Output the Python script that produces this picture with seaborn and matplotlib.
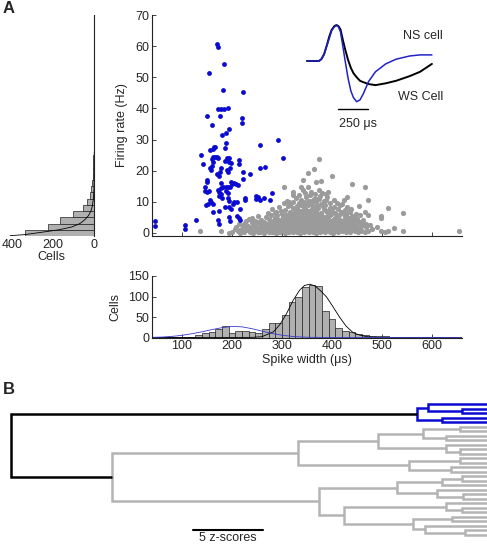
import numpy as np
import pandas as pd
import matplotlib
matplotlib.use("Agg")
import matplotlib.pyplot as plt
import seaborn as sns

# narrow spiking cells (blue): spike width (us), firing rate (Hz)
ns_cells = [
    (169, 60.8), (172, 59.6), (184, 54.2), (153, 51.4), (181, 45.9), (222, 45.4),
    (172, 39.8), (178, 39.9), (183, 39.8), (191, 40.2),
    (150, 37.6), (175, 37.4), (219, 36.9), (219, 35.2), (159, 34.5), (194, 33.3),
    (187, 32.0), (179, 31.3), (187, 29.0),
    (163, 27.7), (166, 27.5), (161, 26.9), (156, 26.6), (185, 27.4), (255, 28.1),
    (292, 29.9), (301, 24.1),
    (137, 24.9), (141, 22.2), (161, 24.5), (165, 24.3), (169, 24.3), (172, 24.2),
    (159, 23.7), (161, 22.9),
    (189, 24.0), (193, 24.0), (186, 23.2), (193, 22.7), (197, 22.5), (213, 23.4), (213, 22.0),
    (159, 21.5), (155, 20.7), (157, 20.1), (178, 20.7), (175, 19.6), (170, 18.8), (174, 18.3),
    (190, 20.3), (195, 20.8), (192, 19.5), (222, 19.6), (235, 19.0), (222, 17.4),
    (149, 16.9), (149, 16.4), (145, 14.7), (177, 16.1), (181, 14.9), (177, 14.5),
    (197, 16.3), (199, 15.8), (203, 15.9), (208, 15.8), (211, 15.4), (187, 14.7),
    (191, 14.9), (195, 14.6),
    (256, 20.9), (266, 21.3), (145, 13.3), (149, 13.0), (153, 13.3), (172, 13.9),
    (174, 13.0), (178, 12.6), (174, 11.9),
    (187, 13.3), (191, 12.8), (155, 10.7), (157, 9.9), (148, 8.8), (151, 9.3),
    (180, 11.1), (191, 11.1), (194, 10.3),
    (204, 10.0), (201, 9.3), (209, 10.0), (197, 7.7), (193, 8.3), (215, 7.7),
    (225, 11.3), (225, 10.7),
    (247, 12.0), (251, 11.5), (248, 10.9), (255, 10.7), (263, 11.3), (275, 10.7), (279, 12.9),
    (161, 9.3), (162, 6.8), (173, 7.1), (185, 8.3), (209, 5.5), (214, 4.8), (215, 4.2),
    (172, 4.0), (173, 3.0),
    (194, 5.1), (195, 3.8), (127, 4.2), (105, 2.5), (105, 1.3), (45, 3.9), (45, 2.3),
]

# wide spiking cells (grey)
ws_cells = [
    # 0 - 1.5 Hz
    (136, 0.7), (178, 0.7), (193, 0.1), (200, 0.3), (205, 1.1), (211, 0.5), (216, 0.9),
    (219, 1.4), (224, 0.2), (228, 0.8), (231, 1.3), (235, 0.4), (238, 1.0), (242, 0.1),
    (245, 0.7), (248, 1.4), (251, 0.3), (254, 0.9), (257, 1.2), (260, 0.5), (263, 0.1),
    (266, 1.0), (268, 0.6), (271, 1.4), (274, 0.2), (277, 0.8), (279, 1.2), (282, 0.4),
    (285, 1.0), (287, 0.1), (290, 0.6), (293, 1.3), (295, 0.3), (298, 0.9), (301, 1.4),
    (303, 0.5), (306, 0.1), (309, 1.1), (311, 0.7), (314, 0.3), (317, 1.3), (319, 0.9),
    (322, 0.2), (325, 0.6), (327, 1.2), (330, 0.4), (333, 1.0), (335, 0.1), (338, 0.7),
    (341, 1.4), (343, 0.3), (346, 0.9), (349, 0.5), (351, 1.2), (354, 0.2), (357, 0.8),
    (359, 1.4), (362, 0.4), (365, 1.0), (367, 0.1), (370, 0.6), (373, 1.3), (375, 0.3),
    (378, 0.9), (381, 0.5), (383, 1.2), (386, 0.2), (389, 0.8), (392, 1.4), (395, 0.4),
    (398, 1.0), (401, 0.1), (404, 0.7), (408, 1.2), (411, 0.3), (415, 0.9), (419, 0.5),
    (423, 1.3), (427, 0.2), (432, 0.8), (436, 0.4), (441, 1.1), (446, 0.6), (452, 0.2),
    (458, 0.9), (465, 0.4), (471, 0.6), (480, 1.1), (497, 0.6), (505, 0.3), (512, 0.7),
    (523, 1.6), (541, 0.6), (654, 0.5),
    # 1.5 - 3.5 Hz
    (207, 2.0), (214, 2.8), (221, 1.8), (226, 3.2), (232, 2.3), (237, 1.7), (241, 2.9),
    (246, 2.1), (250, 3.4), (255, 1.9), (259, 2.6), (262, 3.3), (267, 2.0), (270, 2.7),
    (274, 1.6), (278, 3.1), (281, 2.4), (285, 1.8), (288, 3.4), (291, 2.2), (295, 2.9),
    (298, 1.7), (302, 2.5), (305, 3.2), (308, 1.9), (312, 2.7), (315, 3.5), (318, 2.1),
    (321, 1.6), (324, 2.9), (328, 2.3), (331, 3.3), (334, 1.8), (337, 2.6), (340, 3.4),
    (343, 2.0), (346, 2.8), (350, 1.6), (353, 3.1), (356, 2.4), (359, 1.9), (362, 3.3),
    (366, 2.2), (369, 2.9), (372, 1.7), (375, 2.6), (379, 3.4), (382, 2.0), (386, 2.8),
    (390, 1.7), (393, 3.2), (397, 2.3), (401, 2.9), (405, 1.8), (410, 3.3), (414, 2.4),
    (419, 1.9), (424, 3.0), (430, 2.2), (436, 2.8), (443, 1.8), (450, 3.1), (458, 2.3),
    (467, 1.9), (476, 2.6), (490, 2.0),
    # 3.5 - 6 Hz
    (227, 3.7), (233, 4.6), (240, 4.8), (246, 3.9), (252, 5.4), (258, 4.2), (263, 3.6),
    (268, 5.1), (273, 4.4), (277, 5.8), (282, 3.8), (286, 4.9), (290, 5.6), (294, 4.1),
    (298, 3.6), (301, 5.2), (305, 4.5), (309, 5.9), (312, 3.8), (316, 4.8), (320, 5.5),
    (323, 4.0), (327, 3.6), (330, 5.0), (334, 4.4), (337, 5.8), (341, 3.9), (344, 4.7),
    (348, 5.4), (351, 4.1), (355, 3.7), (358, 5.1), (362, 4.5), (365, 5.9), (369, 3.8),
    (372, 4.9), (376, 5.6), (380, 4.2), (384, 3.7), (388, 5.2), (392, 4.5), (396, 5.8),
    (400, 3.9), (405, 4.8), (410, 5.5), (415, 4.1), (421, 3.7), (426, 5.0), (432, 4.3),
    (440, 5.3), (448, 4.0), (497, 4.8), (497, 5.5),
    # 6 - 9 Hz
    (272, 6.4), (280, 7.7), (288, 6.8), (294, 8.3), (300, 6.2), (305, 7.4), (311, 8.7),
    (316, 6.6), (321, 7.9), (326, 6.3), (330, 8.5), (334, 7.1), (339, 6.5), (343, 8.0),
    (347, 7.3), (352, 8.8), (356, 6.4), (360, 7.6), (364, 8.4), (368, 6.9), (372, 7.9),
    (377, 6.3), (381, 8.6), (385, 7.2), (390, 6.6), (395, 8.1), (400, 7.0), (406, 6.4),
    (412, 7.8), (418, 6.8), (426, 7.3), (436, 6.6), (453, 8.5), (465, 6.7), (471, 5.9),
    (512, 7.9), (541, 6.5),
    # 9 - 12 Hz
    (304, 9.5), (310, 10.4), (316, 9.1), (322, 10.0), (327, 11.2), (333, 9.6), (338, 10.7),
    (343, 9.2), (348, 11.5), (353, 10.1), (358, 9.4), (363, 11.0), (368, 9.8), (373, 10.9),
    (378, 9.3), (384, 10.4), (390, 11.6), (396, 9.7), (403, 10.6), (410, 9.5), (423, 10.7),
    (430, 11.4), (471, 10.5),
    # above 12 Hz
    (322, 13.0), (322, 12.3), (338, 14.6), (342, 13.9), (304, 14.8), (358, 13.2),
    (366, 12.6), (374, 13.8), (380, 12.9), (387, 12.4), (356, 12.3), (342, 17.0),
    (351, 19.3), (364, 20.6), (368, 16.3), (377, 16.8), (374, 23.8), (399, 18.4),
    (440, 15.6), (465, 14.6),
    # core of the cloud
    (292, 0.4), (297, 1.8), (303, 0.9), (307, 2.6), (313, 1.6), (318, 0.6), (323, 2.9),
    (329, 1.7), (332, 0.8), (336, 2.2), (342, 1.1), (345, 3.6), (348, 2.5), (352, 0.7),
    (355, 1.5), (358, 2.7), (361, 3.9), (364, 1.6), (368, 0.7), (371, 2.4), (374, 3.7),
    (377, 1.5), (380, 2.8), (384, 0.6), (387, 3.6), (391, 2.5), (394, 1.3), (399, 3.3),
    (403, 2.0), (407, 0.5), (412, 2.6), (417, 1.4), (300, 3.9), (311, 4.2), (325, 3.0),
    (339, 4.1), (357, 4.3), (370, 4.0), (383, 4.6), (396, 3.1), (409, 4.1), (420, 2.9),
    (319, 6.1), (335, 6.9), (350, 6.0), (366, 7.2), (379, 5.4), (393, 6.9), (345, 9.8),
    (362, 8.6), (375, 11.8), (329, 8.1), (386, 9.0),
    (262, 0.5), (266, 2.4), (270, 1.2), (275, 3.9), (279, 0.3), (283, 2.7), (286, 1.3),
    (289, 4.4), (292, 2.9), (296, 0.7), (299, 2.1), (302, 4.6), (304, 1.6), (307, 3.6),
    (310, 0.4), (313, 3.1), (316, 1.9), (319, 4.1), (321, 0.8), (324, 2.4), (326, 4.9),
    (329, 1.4), (331, 3.8), (334, 0.3), (336, 5.1), (339, 2.9), (341, 1.7), (344, 4.6),
    (347, 0.9), (349, 3.2), (352, 2.1), (354, 5.3), (357, 1.1), (360, 3.0), (362, 0.6),
    (365, 4.7), (367, 2.6), (370, 1.3), (372, 5.2), (375, 0.8), (377, 3.4), (380, 1.9),
    (382, 4.4), (385, 1.0), (388, 2.3), (390, 5.0), (393, 0.5), (396, 2.7), (399, 1.5),
    (402, 4.2), (405, 2.6), (409, 1.0), (413, 3.8), (417, 2.1), (421, 0.7), (425, 4.2),
    (429, 1.4), (434, 2.9), (439, 0.9), (444, 3.6), (449, 1.3),
    (285, 6.5), (297, 7.0), (308, 5.6), (314, 9.9), (325, 7.4), (332, 6.0), (337, 9.0),
    (341, 6.6), (346, 7.8), (354, 7.1), (359, 10.3), (363, 6.2), (370, 8.7), (374, 6.1),
    (383, 7.8), (388, 10.6), (398, 6.1), (404, 8.2), (414, 5.9), (424, 6.2), (345, 12.8),
    (367, 11.0), (352, 14.8), (333, 12.2), (392, 13.2),
    (215, 0.1), (222, 2.6), (230, 1.2), (240, 3.6), (248, 0.6), (255, 2.9), (258, 1.1),
    (425, 1.6), (428, 3.3), (431, 0.5), (434, 4.8), (437, 1.9), (440, 3.9), (443, 0.8),
    (446, 2.6), (449, 4.5), (452, 1.7), (455, 3.4), (458, 0.6), (461, 2.8), (455, 5.6),
    (448, 6.2), (438, 7.6), (430, 8.3), (420, 9.2), (415, 8.9), (427, 5.7), (444, 5.0),
    (462, 4.1), (468, 3.0), (433, 6.8),
    (252, 1.0), (256, 0.2), (259, 2.0), (264, 1.5), (269, 3.0), (273, 0.9), (276, 2.2),
    (281, 1.0), (284, 3.3),
]

# spike width histogram (13.3 us bins from 33.3 to 660 us)
width_counts = [2, 1, 2, 1, 1, 1, 2, 5, 11, 14, 21, 27, 11, 16, 17, 14, 10, 21, 36, 36,
                56, 87, 100, 124, 128, 125, 64, 46, 24, 17, 13, 9, 6, 3, 4, 3, 2, 2, 1,
                1, 0, 1, 0, 1, 0, 1, 1]
# firing rate histogram (2 Hz bins centred on 0, 2, 4, ...)
rate_counts = [338, 226, 168, 104, 56, 35, 21, 14, 10, 7, 6, 5, 4, 3, 3, 2, 2, 2, 1]

# fitted curves as drawn
ws_fit_w = [40, 200, 240, 260, 283, 296, 309, 322, 335, 345, 356, 367, 378, 389, 402,
            415, 428, 442, 455, 470, 490, 660]
ws_fit_n = [0, 0, 0.3, 2, 14, 32, 58, 90, 115, 127, 130, 125, 113, 99, 75, 50, 28, 12,
            6, 2, 0.3, 0]
ns_fit_w = [40, 60, 80, 100, 120, 140, 160, 180, 200, 220, 240, 260, 280, 300, 320, 340,
            360, 400, 660]
ns_fit_n = [0.4, 1.1, 2.7, 5.3, 9.2, 13.9, 19.3, 24, 27, 26, 21.5, 15.5, 9.8, 5.5, 2.7,
            1.1, 0.4, 0, 0]
rate_fit_n = [410, 338, 224, 167, 110, 70, 45, 29, 17, 10, 5, 1.5, 0.5, 0.2]
rate_fit_hz = [-0.9, -0.55, 0.5, 1.06, 1.9, 3.0, 4.3, 5.5, 6.9, 8.5, 10.7, 13.9, 20, 26]

# mean waveforms (us, normalised amplitude)
wave_t = [0, 99, 119, 142, 165, 185, 204, 227, 244, 261, 278, 298, 318, 341, 364, 386,
          412, 440, 469, 511, 568, 653, 739, 852, 938, 1037]
ws_wave = [0, 0, 0.05, 0.19, 0.44, 0.68, 0.86, 0.97, 1.0, 0.97, 0.88, 0.58, 0.31, 0.03,
           -0.19, -0.34, -0.45, -0.55, -0.59, -0.64, -0.67, -0.62, -0.55, -0.42, -0.30,
           -0.08]
ns_wave = [0, 0, 0.05, 0.19, 0.43, 0.63, 0.84, 0.95, 0.99, 0.95, 0.81, 0.40, -0.02,
           -0.48, -0.83, -1.02, -1.13, -1.08, -0.90, -0.57, -0.30, -0.08, 0.05, 0.14,
           0.17, 0.17]

# dendrogram: (child a, child b, distance in z-scores); leaves 0-29, nodes 30+
linkage = [
    (1, 2, 1.8), (0, 30, 4.2), (3, 4, 3.2), (31, 32, 5.0),
    (5, 6, 1.9), (7, 8, 2.9), (34, 35, 4.6), (10, 11, 1.9), (9, 37, 2.9), (36, 38, 7.8),
    (12, 13, 1.9), (14, 15, 2.6), (40, 41, 5.55), (39, 42, 13.5),
    (16, 17, 1.8), (44, 18, 3.2), (20, 21, 1.7), (19, 46, 3.6), (45, 47, 6.45),
    (23, 24, 1.8), (22, 49, 2.9), (25, 26, 2.5), (28, 29, 1.6), (27, 52, 4.4),
    (51, 53, 5.3), (50, 54, 10.2), (48, 55, 12.0), (43, 56, 26.8), (33, 57, 34.0),
]
n_leaves = 30

BLUE = "#0a0ad2"
GREY = "#9b9b9b"

sns.set_style("ticks")
plt.rcParams["font.family"] = ["Liberation Sans", "DejaVu Sans"]
plt.rcParams["font.size"] = 9
plt.rcParams["axes.linewidth"] = 0.8
plt.rcParams["axes.edgecolor"] = "#222222"
plt.rcParams["xtick.direction"] = "in"
plt.rcParams["ytick.direction"] = "in"

W, H = 487, 546
fig = plt.figure(figsize=(W / 100, H / 100), dpi=100)


def px_axes(x0, y0, x1, y1):
    return fig.add_axes([x0 / W, 1 - y1 / H, (x1 - x0) / W, (y1 - y0) / H])


ns_df = pd.DataFrame(ns_cells, columns=["width", "rate"])
ws_df = pd.DataFrame(ws_cells, columns=["width", "rate"])

# ---- scatter ----
ax = px_axes(152, 15, 462, 236)
sns.scatterplot(data=ws_df, x="width", y="rate", color=GREY, s=14, linewidth=0, ax=ax)
sns.scatterplot(data=ns_df, x="width", y="rate", color=BLUE, s=12, linewidth=0, ax=ax)
ax.set_xlim(40, 660)
ax.set_ylim(-1, 70)
ax.set_xticks([100, 200, 300, 400, 500, 600])
ax.set_xticklabels([])
ax.set_yticks(range(0, 71, 10))
ax.tick_params(length=3, width=0.6, pad=2)
ax.set_xlabel("")
ax.set_ylabel("Firing rate (Hz)", labelpad=5)
sns.despine(ax=ax)

# ---- inset waveforms ----
ins = px_axes(300, 20, 440, 115)
sns.lineplot(x=wave_t, y=ws_wave, color="black", lw=1.4, sort=False, ax=ins)
sns.lineplot(x=wave_t, y=ns_wave, color="#2222c8", lw=1.1, sort=False, ax=ins)
ins.set_xlim(-58, 1104)
ins.set_ylim(-1.5, 1.14)
ins.axis("off")
ins.plot([260, 504], [-1.325, -1.325], color="black", lw=1)
ins.text(421, -1.75, "250 \u03bcs", ha="center", va="center", clip_on=False)
ins.text(960, 0.69, "NS cell", ha="center", va="center")
ins.text(944, -1.01, "WS Cell", ha="center", va="center")

# ---- spike width histogram ----
edges_w = [float(e) for e in np.linspace(100 / 3, 660, len(width_counts) + 1)]
width_df = pd.DataFrame({"width": [(a + b) / 2 for a, b in zip(edges_w[:-1], edges_w[1:])],
                         "cells": width_counts})
ax2 = px_axes(152, 276, 462, 337.5)
sns.histplot(data=width_df, x="width", weights="cells", bins=edges_w, color="#b0b0b0",
             edgecolor="#222222", linewidth=0.5, alpha=1, ax=ax2)
sns.lineplot(x=ws_fit_w, y=ws_fit_n, color="black", lw=0.6, ax=ax2)
sns.lineplot(x=ns_fit_w, y=ns_fit_n, color="#3a3ad0", lw=0.6, ax=ax2)
ax2.set_xlim(40, 660)
ax2.set_ylim(0, 150)
ax2.set_xticks([100, 200, 300, 400, 500, 600])
ax2.set_yticks([0, 50, 100, 150])
ax2.tick_params(length=3, width=0.6, pad=2)
ax2.set_xlabel("Spike width (\u03bcs)", labelpad=1)
ax2.set_ylabel("Cells", labelpad=5)
sns.despine(ax=ax2)

# ---- firing rate histogram ----
edges_r = [float(e) for e in range(-1, 2 * len(rate_counts), 2)]
rate_df = pd.DataFrame({"rate": [e + 1 for e in edges_r[:-1]], "cells": rate_counts})
ax3 = px_axes(8, 15, 94.3, 236)
sns.histplot(data=rate_df, y="rate", weights="cells", bins=edges_r, color="#b0b0b0",
             edgecolor="#222222", linewidth=0.5, alpha=1, ax=ax3)
sns.lineplot(x=rate_fit_n, y=rate_fit_hz, color="black", lw=0.6, sort=False, ax=ax3)
ax3.set_xlim(420, 0)
ax3.set_ylim(-1, 70)
ax3.set_xticks([400, 200, 0])
ax3.set_yticks([])
ax3.tick_params(axis="x", length=0, pad=2)
ax3.set_xlabel("Cells", labelpad=0)
ax3.set_ylabel("")
for side in ["left", "top", "bottom"]:
    ax3.spines[side].set_visible(False)
ax3.spines["right"].set_visible(True)

# ---- dendrogram ----
ax4 = px_axes(0, 398, 487, 546)
pos = {i: (0.0, float(i)) for i in range(n_leaves)}
for k, (a, b, h) in enumerate(linkage):
    ha, ya = pos[a]
    hb, yb = pos[b]
    if k < 4:
        col = BLUE
    elif k == len(linkage) - 1:
        col = "black"
    else:
        col = "#b4b4b4"
    ax4.plot([ha, h, h, hb], [ya, ya, yb, yb], color=col, lw=1.8,
             solid_joinstyle="miter", solid_capstyle="butt")
    pos[n_leaves + k] = (h, (ya + yb) / 2)
ax4.plot([21.0, 16.0], [27.9, 27.9], color="black", lw=1.5)
ax4.text(18.5, 29.7, "5 z-scores", ha="center", va="center")
ax4.set_xlim(34.8, 0)
ax4.set_ylim(31.5, -1.4)
ax4.axis("off")

fig.text(3 / W, 1 - 1 / H, "A", fontweight="bold", fontsize=12, va="top")
fig.text(3 / W, 1 - 382 / H, "B", fontweight="bold", fontsize=12, va="top")

fig.savefig("out.png", dpi=100)
